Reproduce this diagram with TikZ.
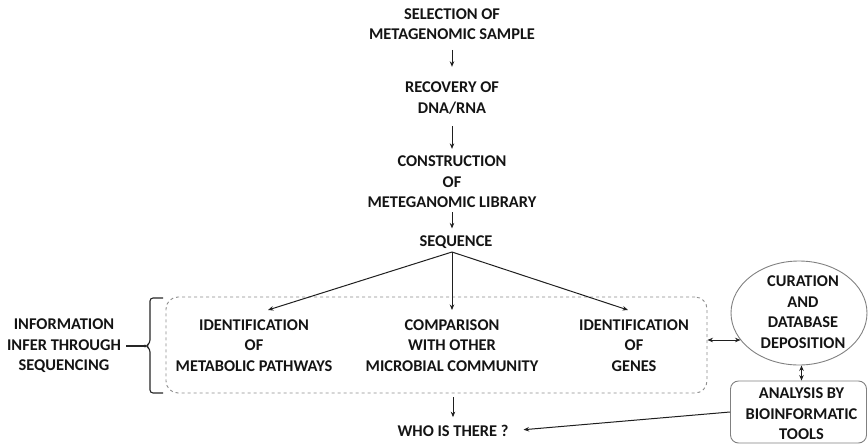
\documentclass[tikz,border=0pt]{standalone}
\usepackage{fontspec}
\setmainfont{Carlito}
\usetikzlibrary{arrows.meta,shapes.geometric}
\begin{document}
\begin{tikzpicture}[x=1pt,y=-1pt,
  lbl/.style={font=\bfseries\fontsize{16.4}{20.5}\selectfont, align=center,
    inner sep=0pt, text=black!92},
  one/.style={lbl, text depth=0pt},
  arr/.style={-{Stealth[length=5.5pt,width=4.5pt]}, line width=1pt, draw=black!88},
  darr/.style={{Stealth[length=5.5pt,width=4.5pt]}-{Stealth[length=5.5pt,width=4.5pt]},
    line width=1pt, draw=black!88},
  plain/.style={line width=1.1pt, draw=black!85},
  group/.style={draw=black!45, dashed, line width=0.9pt, rounded corners=12pt},
  soft/.style={draw=black!50, line width=0.9pt}]
\useasboundingbox (0,0) rectangle (868,445);

% main pipeline
\node[lbl] (sel) at (452,24)  {SELECTION OF\\METAGENOMIC SAMPLE};
\node[lbl] (rec) at (452,98)  {RECOVERY OF\\DNA/RNA};
\node[lbl] (con) at (452,182) {CONSTRUCTION\\OF\\METEGANOMIC LIBRARY};
\node[one] (seq) at (456,241) {SEQUENCE};

\draw[arr, shorten <=10pt, shorten >=15pt] (sel.south) -- (sel.south |- rec.north);
\draw[arr, shorten <=12pt, shorten >=7pt]  (rec.south) -- (rec.south |- con.north);
\draw[arr, shorten <=4pt,  shorten >=7pt]  (con.south) -- (con.south |- seq.north);

% dashed group of inferred information
\node[group, minimum width=541pt, minimum height=96pt] (grp) at (436.5,345) {};
\node[lbl] (p1) at (254,345.5) {IDENTIFICATION\\OF\\METABOLIC PATHWAYS};
\node[lbl] (p2) at (452,345.5) {COMPARISON\\WITH OTHER\\MICROBIAL COMMUNITY};
\node[lbl] (p3) at (634,345.5) {IDENTIFICATION\\OF\\GENES};

\coordinate (fork) at (452,252);
\coordinate (t1) at (268,310);
\coordinate (t2) at (452,310);
\coordinate (t3) at (628,310);
\draw[arr] (fork) -- (t1);
\draw[arr] (fork) -- (t2);
\draw[arr] (fork) -- (t3);

% outcome
\node[one] (who) at (453,431) {WHO IS THERE ?};
\draw[arr, shorten <=4pt, shorten >=8pt] (grp.south -| who) -- (who.north);

% left label with brace
\node[lbl] (info) at (64,346) {INFORMATION\\INFER THROUGH\\SEQUENCING};
\coordinate (btip) at (146,346);
\draw[plain, rounded corners=3pt]
  (163,298) -- (150,298) -- (150,343) -- (btip) -- (150,349) -- (150,393) -- (163,393);
\draw[plain, shorten <=5pt] (info.east) -- (btip);

% curation and analysis
\node[ellipse, soft, minimum width=136pt, minimum height=104pt, inner sep=0pt] (cur) at (799,313) {};
\node[lbl] (curt) at (803,312) {CURATION\\AND\\DATABASE\\DEPOSITION};
\node[soft, rounded corners=8pt, minimum width=136pt, minimum height=62pt, inner sep=0pt] (ana) at (798.5,412) {};
\node[lbl] (anat) at (801.5,414) {ANALYSIS BY\\BIOINFORMATIC\\TOOLS};

\draw[darr] ([yshift=5pt]grp.east) -- ([yshift=5pt]grp.east -| cur.205);
\draw[darr] (cur.south -| anat) -- (ana.north -| anat);
\draw[arr, shorten >=15pt] (ana.west) -- (who.east);
\end{tikzpicture}
\end{document}
